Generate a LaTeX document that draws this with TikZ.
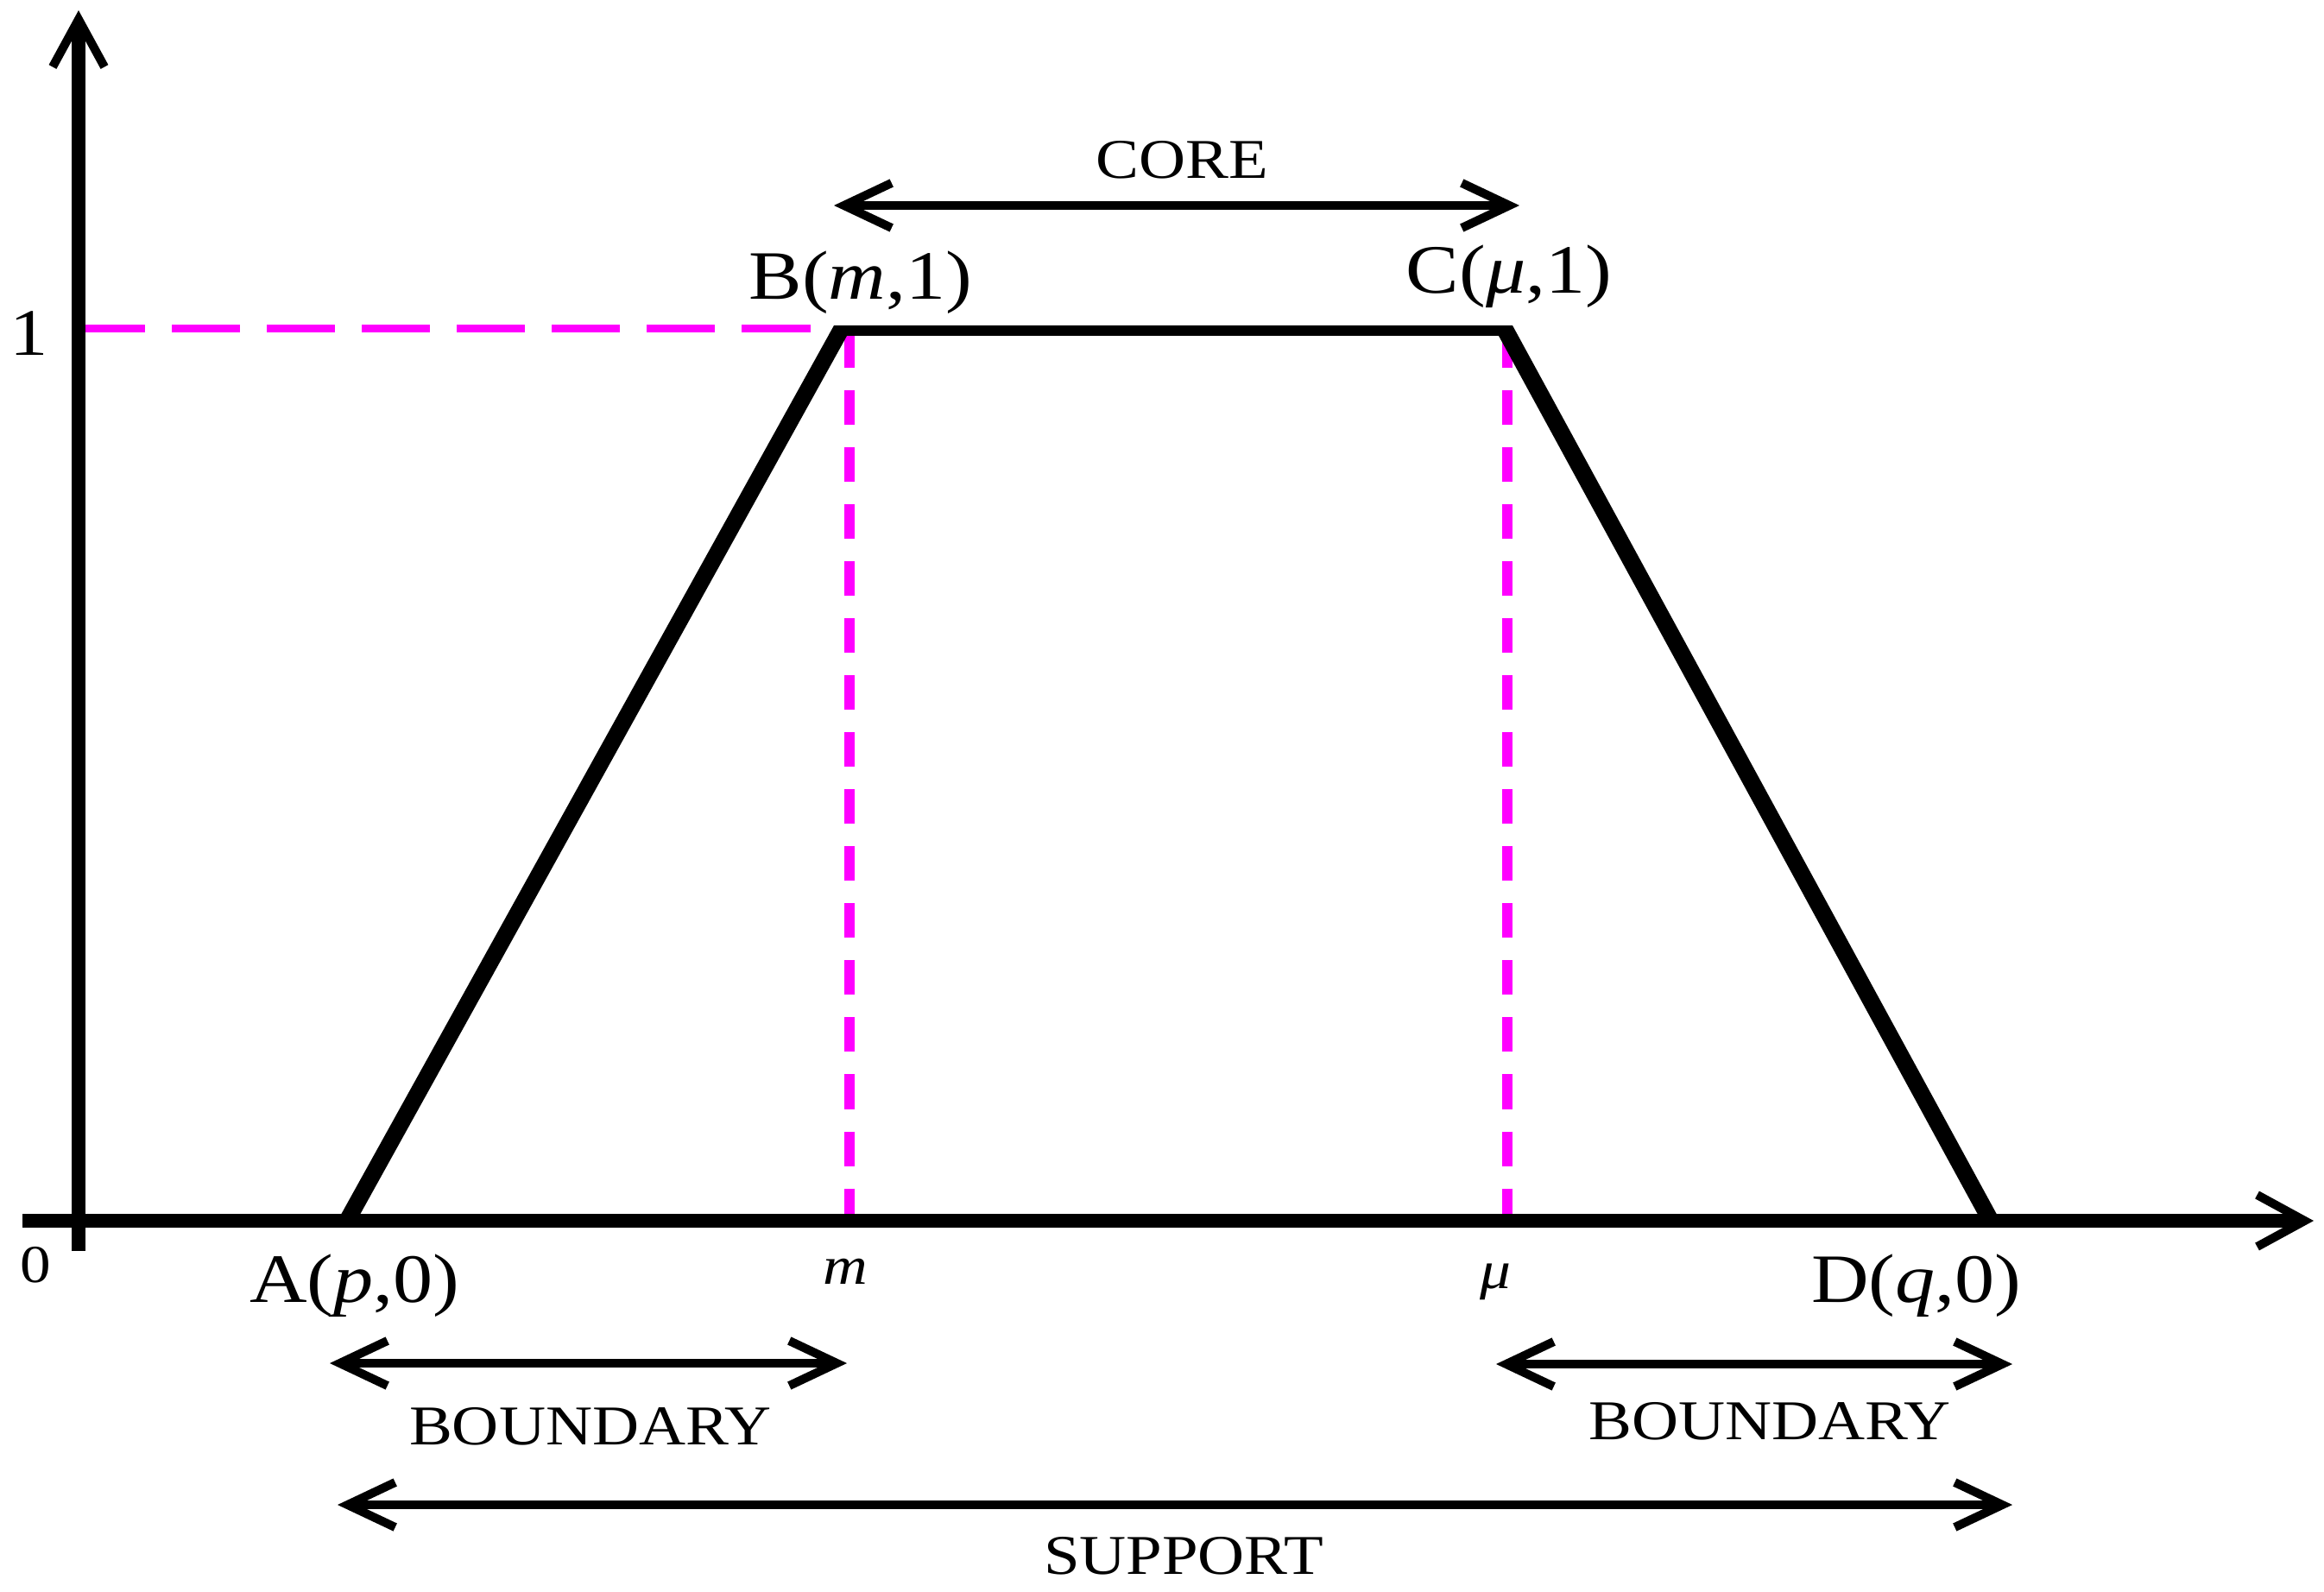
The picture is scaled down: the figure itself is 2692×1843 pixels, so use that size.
\documentclass[tikz,border=0pt]{standalone}
\usepackage{fontspec}
\usepackage{graphicx}
\setmainfont{Liberation Serif}
\usetikzlibrary{arrows.meta}
\definecolor{mag}{RGB}{255,0,255}
\newcommand{\hstretch}[1]{\scalebox{1.15}[1]{#1}}
\begin{document}
\begin{tikzpicture}[x=0.01cm,y=-0.01cm,
  axisline/.style={line width=0.165cm,
    -{Straight Barb[length=0.55cm,width=0.6cm,line width=0.1cm]}},
  trap/.style={fill=black, draw=none},
  hguide/.style={draw=mag, line width=0.09cm, dash pattern=on 0.79cm off 0.31cm},
  vguide/.style={draw=mag, line width=0.12cm, dash pattern=on 0.4cm off 0.26cm},
  spanarrow/.style={line width=0.1cm,
    {Straight Barb[length=0.55cm,width=0.52cm,line width=0.1cm]}-{Straight Barb[length=0.55cm,width=0.52cm,line width=0.1cm]}},
  ptlabel/.style={inner sep=0, anchor=base, font=\fontsize{22.8}{24}\selectfont},
  spanlabel/.style={inner sep=0, anchor=base, font=\fontsize{18.5}{20}\selectfont},
  ticklabel/.style={inner sep=0, anchor=base, font=\fontsize{17.7}{19}\selectfont},
]
\path[use as bounding box] (0,0) rectangle (2692,1843);

% key points
\coordinate (O) at (91,1414);
\coordinate (ytop) at (91,12);
\coordinate (ybot) at (91,1449);
\coordinate (xleft) at (26,1414);
\coordinate (xright) at (2680,1414);

% trapezoid outline (outer and inner edges of the thick stroke)
\coordinate (Aout) at (391,1414);
\coordinate (Bout) at (966,377);
\coordinate (Cout) at (1752,377);
\coordinate (Dout) at (2317,1414);
\coordinate (Din) at (2295,1414);
\coordinate (Cin) at (1736,389);
\coordinate (Bin) at (981,389);
\coordinate (Ain) at (413,1414);

% guide ends
\coordinate (g1l) at (89,381);
\coordinate (g1r) at (948,381);
\coordinate (gmt) at (984,386);
\coordinate (gmb) at (984,1407);
\coordinate (gut) at (1746,386);
\coordinate (gub) at (1746,1407);

% dashed magenta guides
\draw[hguide] (g1l) -- (g1r);
\draw[vguide] (gmt) -- (gmb);
\draw[vguide] (gut) -- (gub);

% trapezoid
\fill[trap] (Aout) -- (Bout) -- (Cout) -- (Dout) -- (Din) -- (Cin) -- (Bin) -- (Ain) -- cycle;

% axes
\draw[axisline] (ybot) -- (ytop);
\draw[axisline] (xleft) -- (xright);

% span arrows
\coordinate (corel) at (966,238);
\coordinate (corer) at (1760,238);
\coordinate (bl1) at (382,1579);
\coordinate (bl2) at (981,1579);
\coordinate (br1) at (1733,1580);
\coordinate (br2) at (2331,1580);
\coordinate (sl) at (391,1743);
\coordinate (sr) at (2331,1743);
\draw[spanarrow] (corel) -- (corer);
\draw[spanarrow] (bl1) -- (bl2);
\draw[spanarrow] (br1) -- (br2);
\draw[spanarrow] (sl) -- (sr);

% labels
\node[ptlabel] (lA) at (411,1508) {\hstretch{A(\textit{p},0)}};
\node[ptlabel] (lB) at (997,347) {\hstretch{B(\textit{m},1)}};
\node[ptlabel] (lC) at (1748,340) {\hstretch{C(\textit{μ},1)}};
\node[ptlabel] (lD) at (2220,1508) {\hstretch{D(\textit{q},0)}};
\node[ticklabel] (lm) at (979,1487) {\hstretch{\textit{m}}};
\node[ticklabel] (lmu) at (1732,1492) {\hstretch{\textit{μ}}};
\node[inner sep=0, anchor=base, font=\fontsize{21.9}{23}\selectfont] (lone) at (34,412) {\hstretch{1}};
\node[inner sep=0, anchor=base, font=\fontsize{17.6}{19}\selectfont] (lzero) at (41,1485) {\hstretch{0}};
\node[spanlabel] (lcore) at (1369,207) {\hstretch{CORE}};
\node[spanlabel] (lbl) at (684,1673) {\hstretch{BOUNDARY}};
\node[spanlabel] (lbr) at (2050,1667) {\hstretch{BOUNDARY}};
\node[spanlabel] (lsup) at (1371,1823) {\hstretch{SUPPORT}};
\end{tikzpicture}
\end{document}
